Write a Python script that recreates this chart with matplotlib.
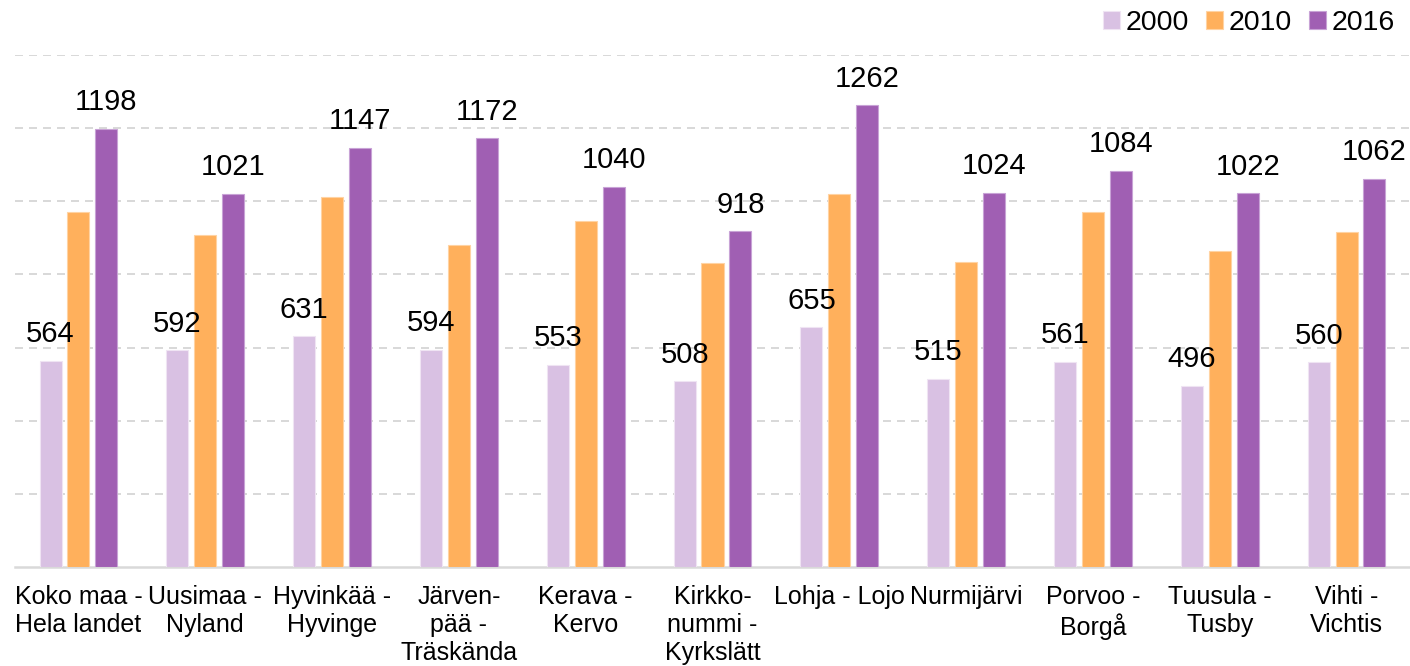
import matplotlib
matplotlib.use("Agg")
import matplotlib.pyplot as plt
import numpy as np

plt.rcParams['font.family'] = ['Liberation Sans', 'DejaVu Sans']

categories = ["Koko maa -\nHela landet", "Uusimaa -\nNyland", "Hyvinkää -\nHyvinge",
              "Järven-\npää -\nTräskända", "Kerava -\nKervo", "Kirkko-\nnummi -\nKyrkslätt",
              "Lohja - Lojo", "Nurmijärvi", "Porvoo -\nBorgå", "Tuusula -\nTusby",
              "Vihti -\nVichtis"]
series_names = ["2000", "2010", "2016"]
v2000 = [564, 592, 631, 594, 553, 508, 655, 515, 561, 496, 560]
v2010 = [972, 909, 1013, 880, 947, 830, 1021, 833, 970, 864, 915]
v2016 = [1198, 1021, 1147, 1172, 1040, 918, 1262, 1024, 1084, 1022, 1062]
labeled = [True, False, True]

colors = ["#D9C1E3", "#FFB05C", "#A05FB3"]
edges = ["#EFE4F3", "#FFD3A3", "#C8A3D6"]

fig = plt.figure(figsize=(14.1, 6.66), dpi=100)
ax = fig.add_axes([15/1410, (666-567)/666, 1 - 15/1410, (567-55)/666])

x = np.arange(len(categories))
w = 0.1735
step = 0.22
for i, (vals, name) in enumerate(zip([v2000, v2010, v2016], series_names)):
    ax.bar(x + (i - 1) * step, vals, width=w, color=colors[i],
           edgecolor=edges[i], linewidth=0.8, label=name, zorder=3)
    if labeled[i]:
        for xi, v in zip(x + (i - 1) * step, vals):
            ax.annotate(str(v), (xi, v), xytext=(0, 9), textcoords="offset points",
                        ha="center", va="bottom", fontsize=21, color="black",
                        annotation_clip=False, zorder=4)

ax.set_xlim(-0.5, len(categories) - 0.5)
ax.set_ylim(0, 1400)
ax.set_yticks(np.arange(200, 1401, 200))
ax.yaxis.grid(True, color="#D9D9D9", linewidth=1.44, linestyle=(0, (4, 3)), zorder=0)
ax.set_axisbelow(True)
ax.tick_params(axis="y", left=False, labelleft=False)
ax.set_xticks(x)
ax.set_xticklabels(categories, fontsize=18, linespacing=1.2)
ax.tick_params(axis="x", length=0, pad=13)
for s in ["top", "right", "left"]:
    ax.spines[s].set_visible(False)
ax.spines["bottom"].set_color("#D9D9D9")
ax.spines["bottom"].set_linewidth(1.8)

fig.legend(loc="upper right", bbox_to_anchor=(1.0075, 1.024), ncol=3, frameon=False,
           fontsize=20.5, handlelength=0.6, handleheight=0.6, handletextpad=0.2,
           columnspacing=0.6)

fig.savefig("out.png", dpi=100)
